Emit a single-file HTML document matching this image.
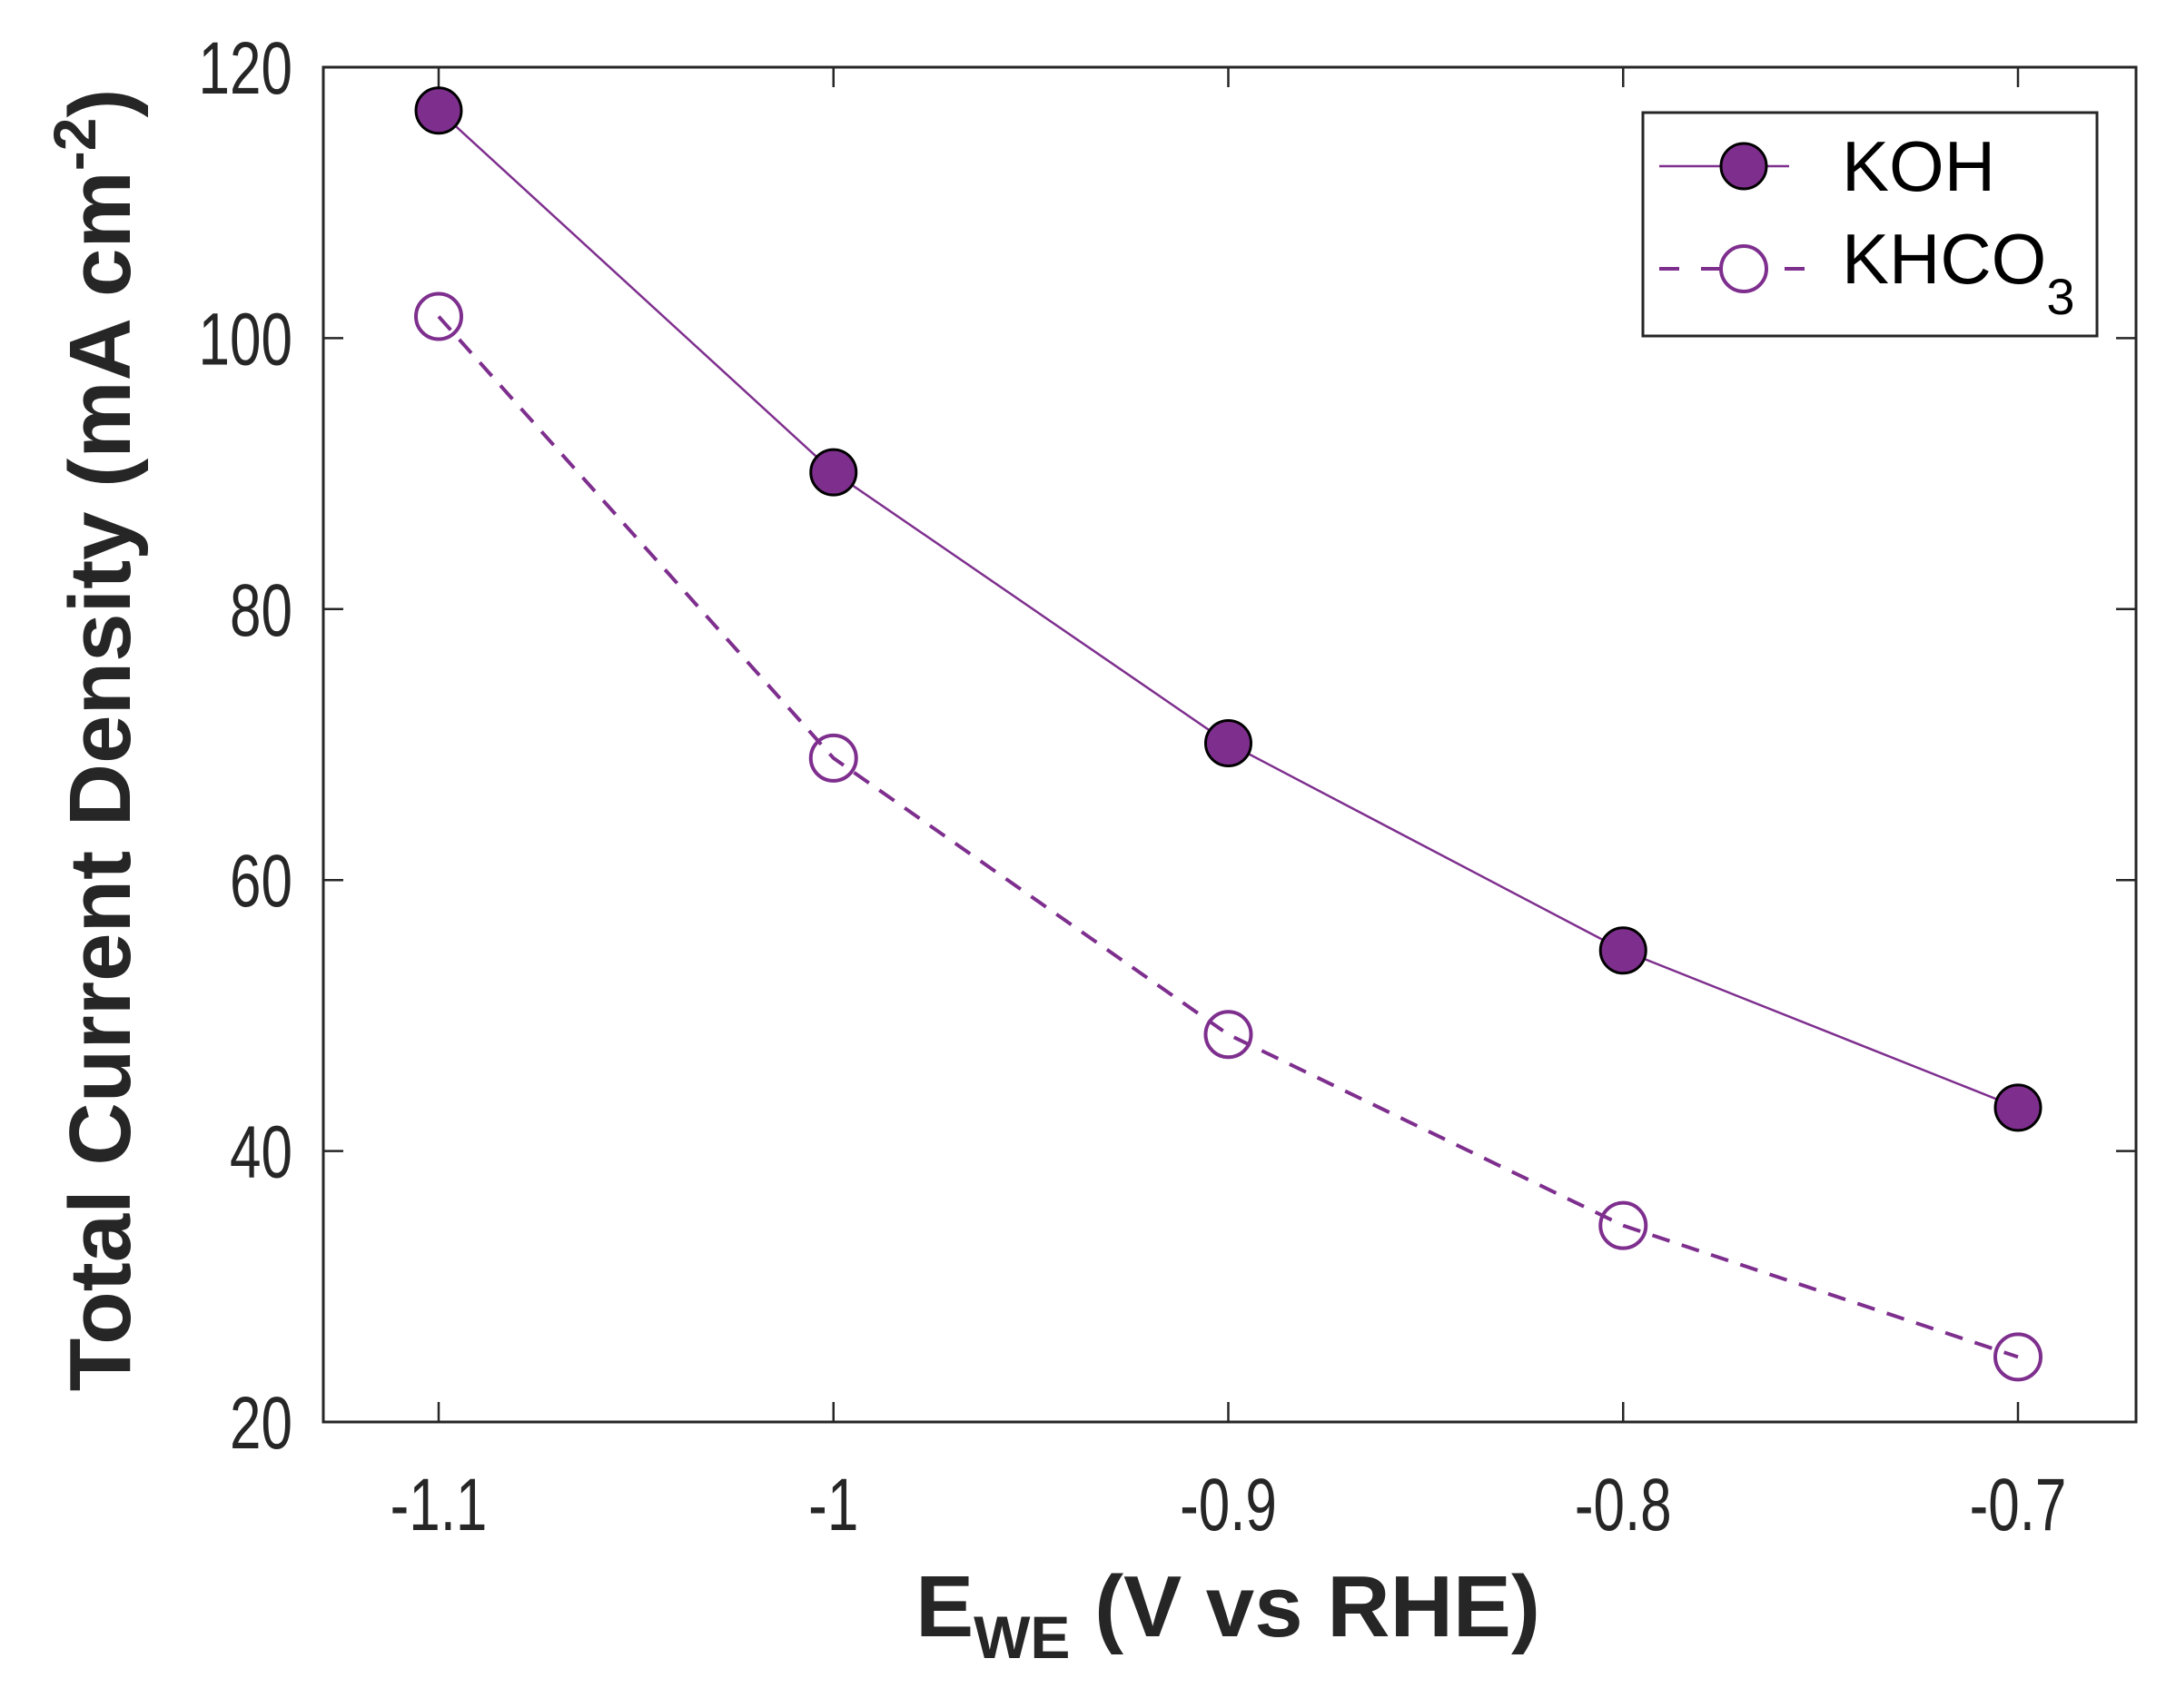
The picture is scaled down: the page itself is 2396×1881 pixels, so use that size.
<!DOCTYPE html>
<html><head><meta charset="utf-8"><style>
html,body{margin:0;padding:0;background:#fff;}
svg{display:block;font-family:"Liberation Sans",Arial,sans-serif;}
</style></head><body>
<svg id="chart" width="2396" height="1881" viewBox="0 0 2396 1881" xmlns="http://www.w3.org/2000/svg">
<rect x="0" y="0" width="2396" height="1881" fill="#fff"/>
<g id="plot"></g>
</svg>
<script>
const potentials = [-1.1, -1.0, -0.9, -0.8, -0.7];
const kohValues = [116.8, 90.1, 70.1, 54.8, 43.2];
const khco3Values = [101.6, 69.0, 48.6, 34.5, 24.8];
const xTickValues = [-1.1, -1.0, -0.9, -0.8, -0.7];
const xTickLabels = ["-1.1", "-1", "-0.9", "-0.8", "-0.7"];
const yTickValues = [20, 40, 60, 80, 100, 120];
const yTickLabels = ["20", "40", "60", "80", "100", "120"];

const NS = "http://www.w3.org/2000/svg";
const L = 356, R = 2352, T = 74, B = 1566;
function xScale(v){ return 483 + (v - (-1.1)) / 0.4 * (2222 - 483); }
function yScale(v){ return B - (v - 20) / 100 * (B - T); }
const g = document.getElementById('plot');
function mk(tag, attrs, parent){
  const e = document.createElementNS(NS, tag);
  for (const k in attrs) e.setAttribute(k, attrs[k]);
  (parent || g).appendChild(e);
  return e;
}
const purple = "#7e2f8e";

const box = mk('rect', {x:L, y:T, width:R-L, height:B-T, fill:'none', stroke:'#262626', 'stroke-width':3});



xTickValues.forEach((v, i) => {
  const x = xScale(v);
  const t1 = mk('line', {x1:x, y1:B, x2:x, y2:B-22, stroke:'#262626', 'stroke-width':2.5});
  
  
  const t2 = mk('line', {x1:x, y1:T, x2:x, y2:T+22, stroke:'#262626', 'stroke-width':2.5});
  
  
  const tx = mk('text', {x:0, y:0, 'font-size':62, 'text-anchor':'middle', fill:'#262626', transform:'translate(' + x + ',1685) scale(1,1.32)'});
  tx.textContent = xTickLabels[i];
  
  
});
yTickValues.forEach((v, i) => {
  const y = yScale(v);
  const t1 = mk('line', {x1:L, y1:y, x2:L+22, y2:y, stroke:'#262626', 'stroke-width':2.5});
  
  
  const t2 = mk('line', {x1:R, y1:y, x2:R-22, y2:y, stroke:'#262626', 'stroke-width':2.5});
  
  
  const tx = mk('text', {x:0, y:0, 'font-size':62, 'text-anchor':'end', fill:'#262626', transform:'translate(322,' + (y+29) + ') scale(1,1.32)'});
  tx.textContent = yTickLabels[i];
  
  
});

function pts(vals){ return vals.map((v,i)=> xScale(potentials[i]) + ',' + yScale(v)).join(' '); }
const l1 = mk('polyline', {points:pts(kohValues), fill:'none', stroke:purple, 'stroke-width':2.5});


const l2 = mk('polyline', {points:pts(khco3Values), fill:'none', stroke:purple, 'stroke-width':4, 'stroke-dasharray':'20 14'});


kohValues.forEach((v,i)=>{
  const c = mk('circle', {cx:xScale(potentials[i]), cy:yScale(v), r:25, fill:purple, stroke:'#000', 'stroke-width':3});
  
  
});
khco3Values.forEach((v,i)=>{
  const c = mk('circle', {cx:xScale(potentials[i]), cy:yScale(v), r:25, fill:'none', stroke:purple, 'stroke-width':4});
  
  
});

const lg = mk('g', {});


mk('rect', {x:1809, y:124, width:500, height:246, fill:'#fff', stroke:'#262626', 'stroke-width':3}, lg);
mk('line', {x1:1827, y1:183, x2:1970, y2:183, stroke:purple, 'stroke-width':2.5}, lg);
mk('circle', {cx:1920, cy:183, r:25, fill:purple, stroke:'#000', 'stroke-width':3}, lg);
const k1 = mk('text', {x:2028, y:210, 'font-size':78, fill:'#000'}, lg);
k1.textContent = 'KOH';


mk('line', {x1:1827, y1:296, x2:1996, y2:296, stroke:purple, 'stroke-width':4, 'stroke-dasharray':'22 24'}, lg);
mk('circle', {cx:1920, cy:296, r:25, fill:'#fff', stroke:purple, 'stroke-width':4}, lg);
const k2 = mk('text', {x:2028, y:312, 'font-size':78, fill:'#000'}, lg);
k2.innerHTML = 'KHCO<tspan font-size="56" dy="34">3</tspan>';



const xt = mk('text', {x:1352, y:1802, 'font-size':96, 'font-weight':'bold', 'text-anchor':'middle', fill:'#262626'});
xt.innerHTML = 'E<tspan font-size="66" dy="24">WE</tspan><tspan dy="-24"> (V vs RHE)</tspan>';


const yt = mk('text', {x:0, y:0, 'font-size':96, 'font-weight':'bold', 'text-anchor':'middle', fill:'#262626', transform:'translate(143,815) rotate(-90)'});
yt.innerHTML = 'Total Current Density (mA cm<tspan font-size="66" dy="-38">-2</tspan><tspan dy="38">)</tspan>';


</script>
</body></html>
